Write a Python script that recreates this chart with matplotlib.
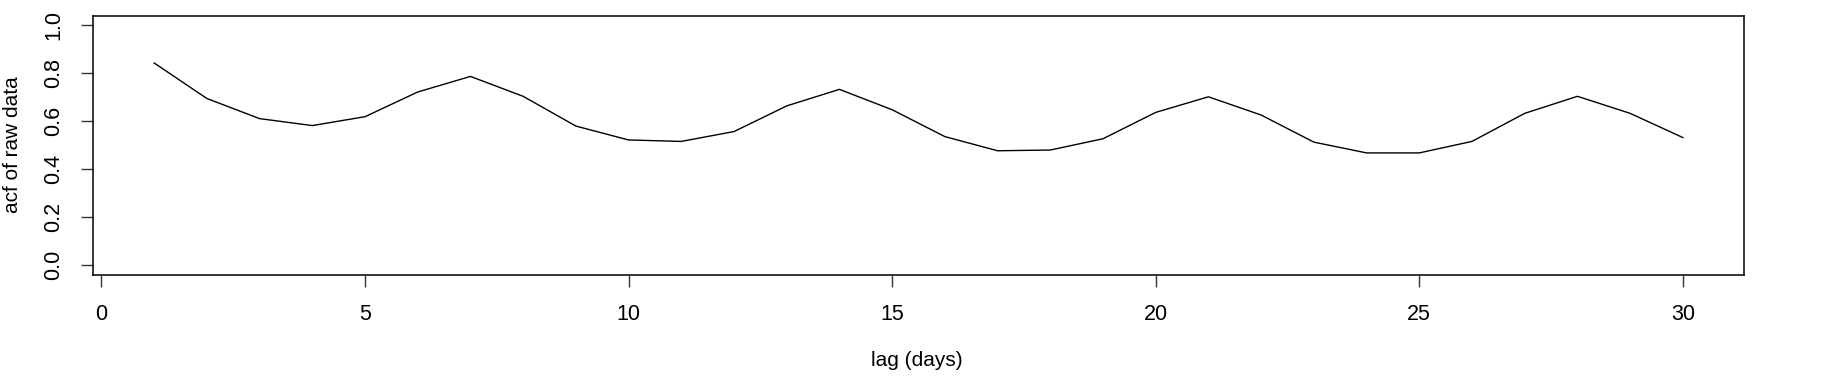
import numpy as np
import matplotlib
matplotlib.use("Agg")
import matplotlib.pyplot as plt

plt.rcParams["font.family"] = ["Liberation Sans", "DejaVu Sans"]

# acf values, lags 1..30
lags = list(range(1, 31))
acf_vals = [0.842, 0.694, 0.610, 0.581, 0.618, 0.721, 0.786, 0.703, 0.579, 0.521,
            0.515, 0.556, 0.663, 0.732, 0.647, 0.535, 0.476, 0.479, 0.526, 0.636,
            0.701, 0.625, 0.512, 0.467, 0.467, 0.515, 0.632, 0.703, 0.632, 0.531]
xticks = [0, 5, 10, 15, 20, 25, 30]
yticks = [0.0, 0.2, 0.4, 0.6, 0.8, 1.0]

fig = plt.figure(figsize=(18.44, 3.78), dpi=100)
ax = fig.add_axes([93 / 1844, 1 - 274.5 / 378, (1744 - 93) / 1844, (274.5 - 15.5) / 378])

ax.plot(lags, acf_vals, color="black", linewidth=1.0)

# R-style 4% padding
ax.set_xlim(1 - 0.04 * 29, 30 + 0.04 * 29)
ax.set_ylim(-0.04, 1.04)

ax.set_xticks(xticks)
ax.set_xticklabels([str(t) for t in xticks])
ax.set_yticks(yticks)
ax.set_yticklabels([f"{t:.1f}" for t in yticks], rotation=90, va="center")

ax.tick_params(axis="both", direction="out", length=8.6, width=1.0, labelsize=15.5,
               color="#333333")
ax.tick_params(axis="x", pad=13)
ax.tick_params(axis="y", pad=12)
for s in ax.spines.values():
    s.set_linewidth(1.1)

ax.set_xlabel("lag (days)", fontsize=15)
ax.set_ylabel("acf of raw data", fontsize=15)
ax.xaxis.set_label_coords((917 - 93) / (1744 - 93), -(360 - 274.5) / 259)
ax.yaxis.set_label_coords(-(93 - 13) / (1744 - 93), 0.5)
ax.xaxis.label.set_va("center")
ax.yaxis.label.set_va("center")

fig.savefig("out.png", dpi=100)
